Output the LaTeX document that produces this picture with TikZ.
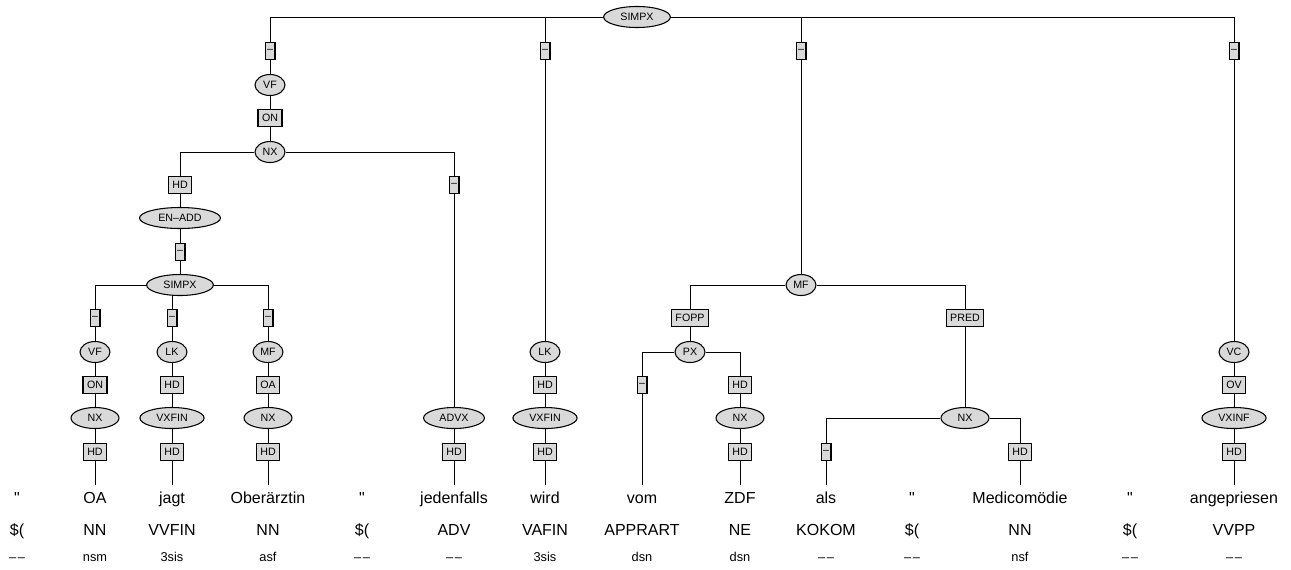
\documentclass[tikz,border=0pt]{standalone}
\usepackage{fontspec}
\setmainfont{Liberation Sans}
\usetikzlibrary{shapes.geometric,backgrounds}
\definecolor{NodeFill}{RGB}{217,217,217}
\newcommand{\tagfont}{\fontsize{8}{9}\selectfont}
\newcommand{\nomorph}{\textendash\kern1.2pt\textendash}

\begin{document}
\begin{tikzpicture}[x=0.75pt,y=-0.75pt,line width=0.8pt,
   catnode/.style={ellipse,draw,fill=NodeFill,font=\tagfont,inner xsep=5.25pt,inner ysep=0pt,minimum height=15.75pt},
   catsmall/.style={catnode,inner xsep=0pt,minimum width=22.5pt},
   catmid/.style={catnode,inner xsep=0pt,minimum width=36pt},
   funcbox/.style={rectangle,draw,fill=NodeFill,font=\tagfont,inner xsep=3pt,inner ysep=0pt,minimum height=12.75pt},
   nofunc/.style={funcbox,inner xsep=1.5pt},
   wordnode/.style={font=\fontsize{12}{14}\selectfont,text height=8.6pt,text depth=2.6pt,inner ysep=4.9pt,anchor=north},
   posnode/.style={font=\fontsize{12}{14}\selectfont,anchor=base},
   morphnode/.style={font=\fontsize{9.6}{11}\selectfont,anchor=base}]
  \useasboundingbox (0,0) rectangle (1291,569);
  % main clause
  \node[catnode] (s0) at (637,17) {SIMPX};
  \node[nofunc] (d1) at (270,51) {\textendash};
  \node[nofunc] (d2) at (545,51) {\textendash};
  \node[nofunc] (d3) at (801,51) {\textendash};
  \node[nofunc] (d4) at (1234,51) {\textendash};
  \node[catsmall] (vf1) at (270,85) {VF};
  \node[funcbox] (on1) at (270,118) {ON};
  \node[catsmall] (nx1) at (270,152) {NX};
  \node[funcbox] (hd1) at (180,185) {HD};
  \node[nofunc] (d5) at (454,185) {\textendash};
  \node[catnode] (enadd) at (180,218) {EN\textendash ADD};
  \node[nofunc] (d6) at (180,252) {\textendash};
  % embedded clause
  \node[catnode] (s1) at (180,285) {SIMPX};
  \node[catsmall] (mf1) at (801,285) {MF};
  \node[nofunc] (d7) at (95,318) {\textendash};
  \node[nofunc] (d8) at (172,318) {\textendash};
  \node[nofunc] (d9) at (268,318) {\textendash};
  \node[funcbox] (fopp) at (690,318) {FOPP};
  \node[funcbox] (pred) at (965,318) {PRED};
  \node[catsmall] (vf2) at (95,352) {VF};
  \node[catsmall] (lk1) at (172,352) {LK};
  \node[catsmall] (mf2) at (268,352) {MF};
  \node[catsmall] (lk2) at (545,352) {LK};
  \node[catsmall] (px1) at (690,352) {PX};
  \node[catsmall] (vc1) at (1234,352) {VC};
  \node[funcbox] (on2) at (95,385) {ON};
  \node[funcbox] (hd2) at (172,385) {HD};
  \node[funcbox] (oa1) at (268,385) {OA};
  \node[funcbox] (hd3) at (545,385) {HD};
  \node[nofunc] (d10) at (642,385) {\textendash};
  \node[funcbox] (hd4) at (740,385) {HD};
  \node[funcbox] (ov1) at (1234,385) {OV};
  \node[catmid] (nx2) at (95,418) {NX};
  \node[catnode] (vxfin1) at (172,418) {VXFIN};
  \node[catmid] (nx3) at (268,418) {NX};
  \node[catnode] (advx) at (454,418) {ADVX};
  \node[catnode] (vxfin2) at (545,418) {VXFIN};
  \node[catmid] (nx4) at (740,418) {NX};
  \node[catmid] (nx5) at (965,418) {NX};
  \node[catnode] (vxinf) at (1234,418) {VXINF};
  % heads above the tokens
  \node[funcbox] (h2) at (95,452) {HD};
  \node[funcbox] (h3) at (172,452) {HD};
  \node[funcbox] (h4) at (268,452) {HD};
  \node[funcbox] (h6) at (454,452) {HD};
  \node[funcbox] (h7) at (545,452) {HD};
  \node[funcbox] (h9) at (740,452) {HD};
  \node[nofunc] (h10) at (826,452) {\textendash};
  \node[funcbox] (h12) at (1020,452) {HD};
  \node[funcbox] (h14) at (1234,452) {HD};
  % tokens, tags, morphology
  \foreach \x/\w/\p/\m [count=\i] in {17/\textquotedbl/\$(/\nomorph,
      95/OA/NN/nsm, 172/jagt/VVFIN/3sis, 268/Oberärztin/NN/asf,
      362/\textquotedbl/\$(/\nomorph, 454/jedenfalls/ADV/\nomorph,
      545/wird/VAFIN/3sis, 642/vom/APPRART/dsn, 740/ZDF/NE/dsn,
      826/als/KOKOM/\nomorph, 912/\textquotedbl/\$(/\nomorph,
      1020/Medicomödie/NN/nsf, 1130/\textquotedbl/\$(/\nomorph,
      1234/angepriesen/VVPP/\nomorph}{
    \node[wordnode] (w\i) at (\x,485) {\w};
    \node[posnode] (p\i) at (\x,535) {\p};
    \node[morphnode] (m\i) at (\x,561) {\m};
  }
  \begin{scope}[on background layer]
    \foreach \a/\b in {s0/d1,s0/d2,s0/d3,s0/d4,nx1/hd1,nx1/d5,s1/d7,s1/d8,s1/d9,
        mf1/fopp,mf1/pred,px1/d10,px1/hd4,nx5/h10,nx5/h12}{
      \draw (\a) -| (\b);
    }
    \foreach \a/\b in {d1/vf1,vf1/on1,on1/nx1,hd1/enadd,enadd/d6,d6/s1,
        d7/vf2,vf2/on2,on2/nx2,nx2/h2,h2/w2,d8/lk1,lk1/hd2,hd2/vxfin1,vxfin1/h3,h3/w3,
        d9/mf2,mf2/oa1,oa1/nx3,nx3/h4,h4/w4,d5/advx,advx/h6,h6/w6,
        d2/lk2,lk2/hd3,hd3/vxfin2,vxfin2/h7,h7/w7,d3/mf1,fopp/px1,d10/w8,
        hd4/nx4,nx4/h9,h9/w9,pred/nx5,h10/w10,h12/w12,
        d4/vc1,vc1/ov1,ov1/vxinf,vxinf/h14,h14/w14}{
      \draw (\a) -- (\b);
    }
  \end{scope}
\end{tikzpicture}
\end{document}
